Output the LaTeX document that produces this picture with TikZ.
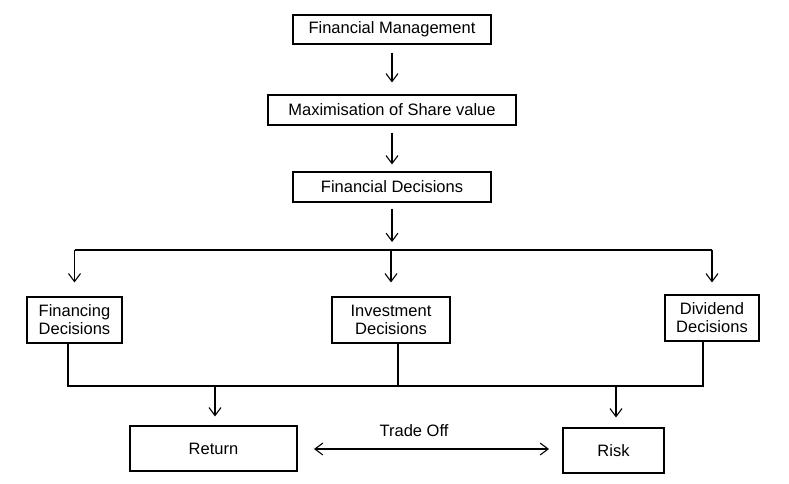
\documentclass[tikz,border=0pt]{standalone}
\usepackage{fontspec}
\setmainfont{Liberation Sans}
\usetikzlibrary{arrows.meta}
\begin{document}
\begin{tikzpicture}[x=1pt,y=-1pt,
  box/.style={draw, line width=1.1pt, inner sep=0pt, align=center,
    font=\fontsize{16.5}{18}\selectfont},
  conn/.style={line width=1.1pt},
  arr/.style={conn, -{Straight Barb[length=8pt,width=12pt,line width=1.1pt]}},
  darr/.style={conn, {Straight Barb[length=8pt,width=12pt,line width=1.1pt]}-{Straight Barb[length=8pt,width=12pt,line width=1.1pt]}},
  lbl/.style={font=\fontsize{16.5}{18}\selectfont}]
\useasboundingbox (0,0) rectangle (789,483);
\node[box, minimum width=198pt, minimum height=29pt] (fm) at (392,29.5) {Financial Management};
\node[box, minimum width=248pt, minimum height=30pt] (ms) at (392,110) {Maximisation of Share value};
\node[box, minimum width=198pt, minimum height=30pt] (fd) at (392,187) {Financial Decisions};
\node[box, minimum width=95pt, minimum height=46pt] (fin) at (74.5,320) {Financing\\Decisions};
\node[box, minimum width=118pt, minimum height=46pt] (inv) at (391,320) {Investment\\Decisions};
\node[box, minimum width=94pt, minimum height=46pt] (div) at (712,318) {Dividend\\Decisions};
\node[box, minimum width=167pt, minimum height=45pt] (ret) at (213.5,448.5) {Return};
\node[box, minimum width=101pt, minimum height=45pt] (risk) at (613.5,450.5) {Risk};
\node[lbl] (to) at (414,431) {Trade Off};
\coordinate (bus) at (392,250);
\coordinate (bL) at (74.5,250);
\coordinate (bR) at (712,250);
\coordinate (lL) at (68,386);
\coordinate (lM) at (398,386);
\coordinate (lR) at (703,386);
\coordinate (rA) at (215,386);
\coordinate (kA) at (616,386);
\coordinate (tL) at (297,449);
\coordinate (tR) at (563,449);
\draw[arr, shorten <=8pt, shorten >=12pt] (fm.south) -- (ms.north);
\draw[arr, shorten <=7pt, shorten >=7pt] (ms.south) -- (fd.north);
\draw[arr, shorten <=6pt, shorten >=8pt] (fd.south) -- (bus);
\draw[conn] (bL) -- (bR);
\draw[arr, shorten >=14pt] (bL) -- (fin.north);
\draw[arr, shorten >=14pt] (bus -| inv.north) -- (inv.north);
\draw[arr, shorten >=12pt] (bR) -- (div.north);
\draw[conn] (fin.south -| lL) -- (lL) -- (lR) -- (div.south -| lR);
\draw[conn] (inv.south -| lM) -- (lM);
\draw[arr, shorten >=9pt] (rA) -- (ret.north -| rA);
\draw[arr, shorten >=10pt] (kA) -- (risk.north -| kA);
\draw[darr, shorten <=17pt, shorten >=14pt] (tL) -- (tR);
\end{tikzpicture}
\end{document}
